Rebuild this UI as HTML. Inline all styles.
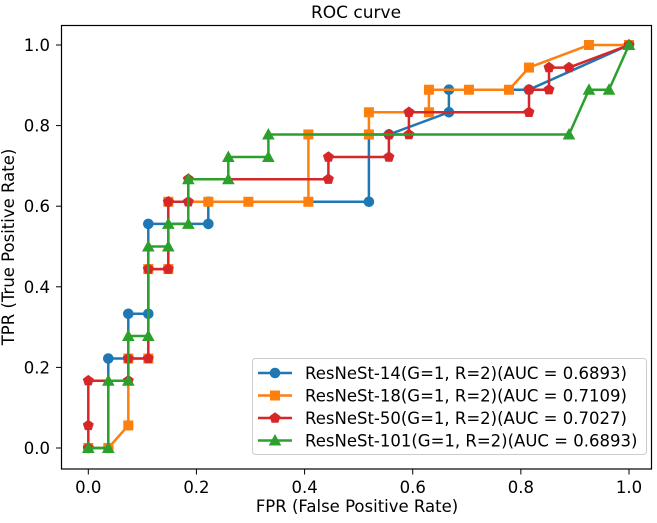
<!DOCTYPE html>
<html><head><meta charset="utf-8"><style>
body{margin:0;background:#fff}
svg{font-family:"DejaVu Sans","Liberation Sans",sans-serif}
</style></head><body>
<svg id="chart" width="657" height="518" viewBox="0 0 657 518" xmlns="http://www.w3.org/2000/svg">
<rect width="657" height="518" fill="#fff"/>
<text x="356" y="18" text-anchor="middle" font-size="17">ROC curve</text>
<g id="marks"></g>
<rect x="61.5" y="25.5" width="590" height="443.5" fill="none" stroke="#000" stroke-width="1.2"/>
<g id="ticks"></g>
<text x="357" y="512" text-anchor="middle" font-size="16.5">FPR (False Positive Rate)</text>
<text transform="translate(14,247) rotate(-90)" text-anchor="middle" font-size="16.5">TPR (True Positive Rate)</text>
<g id="legend"></g>
</svg>
<script>
const seriesNames=["ResNeSt-14(G=1, R=2)(AUC = 0.6893)","ResNeSt-18(G=1, R=2)(AUC = 0.7109)","ResNeSt-50(G=1, R=2)(AUC = 0.7027)","ResNeSt-101(G=1, R=2)(AUC = 0.6893)"];
const fpr14=[0,0.037,0.037,0.074,0.074,0.111,0.111,0.222,0.222,0.519,0.519,0.556,0.667,0.667,0.815,1];
const tpr14=[0,0,0.222,0.222,0.333,0.333,0.556,0.556,0.611,0.611,0.778,0.778,0.833,0.889,0.889,1];
const fpr18=[0,0.037,0.074,0.074,0.111,0.111,0.148,0.148,0.222,0.296,0.407,0.407,0.519,0.519,0.630,0.630,0.704,0.778,0.815,0.926,1];
const tpr18=[0,0,0.056,0.222,0.222,0.444,0.444,0.611,0.611,0.611,0.611,0.778,0.778,0.833,0.833,0.889,0.889,0.889,0.944,1,1];
const fpr50=[0,0,0,0.074,0.074,0.111,0.111,0.148,0.148,0.185,0.185,0.444,0.444,0.556,0.556,0.593,0.593,0.815,0.815,0.852,0.852,0.889,1];
const tpr50=[0,0.056,0.167,0.167,0.222,0.222,0.444,0.444,0.611,0.611,0.667,0.667,0.722,0.722,0.778,0.778,0.833,0.833,0.889,0.889,0.944,0.944,1];
const fpr101=[0,0.037,0.037,0.074,0.074,0.111,0.111,0.148,0.148,0.185,0.185,0.259,0.259,0.333,0.333,0.889,0.926,0.963,1];
const tpr101=[0,0,0.167,0.167,0.278,0.278,0.5,0.5,0.556,0.556,0.667,0.667,0.722,0.722,0.778,0.778,0.889,0.889,1];
const tickValues=[0,0.2,0.4,0.6,0.8,1.0];
const tickLabels=["0.0","0.2","0.4","0.6","0.8","1.0"];

const NS="http://www.w3.org/2000/svg";
const X=v=>88.3+v*540.7, Y=v=>448-v*403;
const colors=["#1f77b4","#ff7f0e","#d62728","#2ca02c"];
const shapes=["circle","square","pentagon","triangle"];
const series=[[fpr14,tpr14],[fpr18,tpr18],[fpr50,tpr50],[fpr101,tpr101]];
function mk(t,a){const e=document.createElementNS(NS,t);for(const k in a)e.setAttribute(k,a[k]);return e;}
function marker(shape,x,y,c){
  if(shape==="circle")return mk("circle",{cx:x,cy:y,r:5.3,fill:c});
  if(shape==="square")return mk("rect",{x:x-5,y:y-5,width:10,height:10,fill:c});
  let pts=[];
  if(shape==="pentagon"){for(let i=0;i<5;i++){const a=-Math.PI/2+i*2*Math.PI/5;pts.push((x+5.8*Math.cos(a)).toFixed(1)+","+(y+5.8*Math.sin(a)).toFixed(1));}}
  else pts=[x+","+(y-6.5),(x+6.3)+","+(y+5),(x-6.3)+","+(y+5)];
  return mk("polygon",{points:pts.join(" "),fill:c});
}
const marks=document.getElementById("marks");
series.forEach((s,i)=>{
  const g=mk("g",{});
  
  
  const d=s[0].map((v,j)=>X(v).toFixed(1)+","+Y(s[1][j]).toFixed(1)).join(" ");
  const pl=mk("polyline",{points:d,fill:"none",stroke:colors[i],"stroke-width":2.5});
  
  
  g.appendChild(pl);
  s[0].forEach((v,j)=>{
    const m=marker(shapes[i],X(v),Y(s[1][j]),colors[i]);
    
    
    g.appendChild(m);
  });
  marks.appendChild(g);
});
const ticks=document.getElementById("ticks");
tickValues.forEach((v,i)=>{
  const xl=mk("line",{x1:X(v),x2:X(v),y1:469,y2:474.5,stroke:"#000"});
  
  
  ticks.appendChild(xl);
  const xt=mk("text",{x:X(v),y:493,"text-anchor":"middle","font-size":"16.5"});xt.textContent=tickLabels[i];
  
  
  ticks.appendChild(xt);
  const yl=mk("line",{x1:56,x2:61.5,y1:Y(v),y2:Y(v),stroke:"#000"});
  
  
  ticks.appendChild(yl);
  const yt=mk("text",{x:50,y:Y(v)+6,"text-anchor":"end","font-size":"16.5"});yt.textContent=tickLabels[i];
  
  
  ticks.appendChild(yt);
});
const lg=document.getElementById("legend");
const box=mk("rect",{x:252.5,y:358.5,width:394,height:96,rx:3,fill:"#fff","fill-opacity":0.85,stroke:"#ccc"});


lg.appendChild(box);
seriesNames.forEach((n,i)=>{
  const y=373+i*22.5;
  const e=mk("g",{});
  
  
  e.appendChild(mk("line",{x1:258,x2:292,y1:y,y2:y,stroke:colors[i],"stroke-width":2.5}));
  e.appendChild(marker(shapes[i],275,y,colors[i]));
  const t=mk("text",{x:305,y:y+6,"font-size":"16.5"});t.textContent=n;
  e.appendChild(t);
  lg.appendChild(e);
});
</script>
</body></html>
